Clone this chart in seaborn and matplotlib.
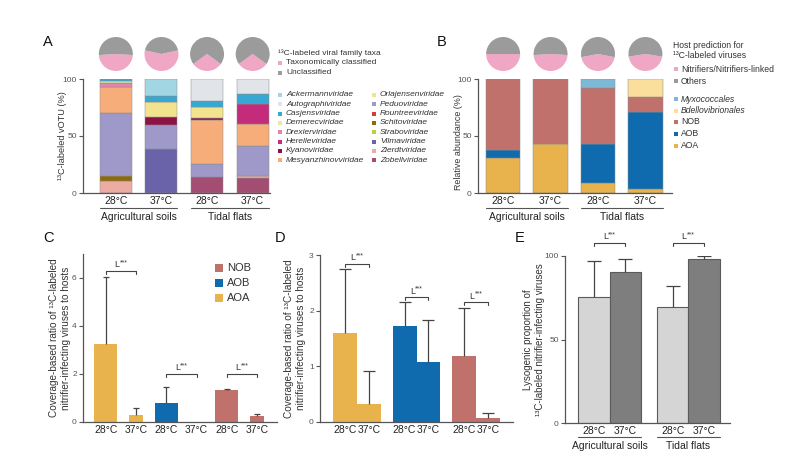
import numpy as np
import pandas as pd
import matplotlib
matplotlib.use("Agg")
import matplotlib.pyplot as plt
import matplotlib.transforms as mtransforms
from matplotlib.patches import Rectangle
import seaborn as sns

sns.set_style("ticks")
plt.rcParams["font.family"] = ["Liberation Sans", "DejaVu Sans"]
plt.rcParams["mathtext.default"] = "regular"

W, H = 786, 475

# ---- A: 13C-labeled vOTUs by viral family (%)
samples = ["AS28", "AS37", "TF28", "TF37"]
temps = ["28°C", "37°C", "28°C", "37°C"]
sites = ["Agricultural soils", "Tidal flats"]
families = ["Ackermannviridae", "Autographiviridae", "Casjensviridae", "Demerecviridae",
            "Drexlerviridae", "Herelleviridae", "Kyanoviridae", "Mesyanzhinovviridae",
            "Orlajensenviridae", "Peduoviridae", "Rountreeviridae", "Schitoviridae",
            "Straboviridae", "Vilmaviridae", "Zierdtviridae", "Zobellviridae"]
fam_colors = ["#A3D6E3", "#E1E5E9", "#37A8D4", "#E3EDA2", "#E584AC", "#C42B7B", "#8D1346", "#F6AD7A",
              "#F2E48F", "#9E99C9", "#D53B3B", "#8F6A0B", "#B6D43E", "#6B63A9", "#ECACA4", "#A34D73"]
# order of the segments, bottom -> top
stack_order = ["Zobellviridae", "Zierdtviridae", "Schitoviridae", "Vilmaviridae", "Peduoviridae",
               "Mesyanzhinovviridae", "Drexlerviridae", "Herelleviridae", "Kyanoviridae",
               "Orlajensenviridae", "Demerecviridae", "Rountreeviridae", "Straboviridae",
               "Casjensviridae", "Ackermannviridae", "Autographiviridae"]
as28 = [0, 0, 2.0, 1.5, 3.5, 0, 0, 23.0, 0, 54.6, 0, 4.4, 0, 0, 10.9, 0]
as37 = [14.5, 0, 5.3, 0, 0, 0, 7.4, 0, 13.3, 20.6, 0, 0, 0, 38.9, 0, 0]
tf28 = [0, 19.2, 5.0, 0, 0, 0, 2.0, 38.9, 9.7, 11.2, 0, 0, 0, 0, 0, 13.9]
tf37 = [0, 13.3, 8.8, 0, 0, 17.4, 0, 19.2, 0, 26.5, 0, 0, 0, 0, 1.8, 13.0]
pie_a = [48, 57, 30, 30]   # taxonomically classified (%)

# ---- B: host prediction (%)
hosts = ["AOA", "AOB", "NOB", "Bdellovibrionales", "Myxococcales"]
host_colors = ["#E8B34D", "#0F6BAE", "#C1716B", "#F9DE9C", "#7DB9D7"]
aoa_b = [30.5, 42.6, 8.5, 3.5]
aob_b = [7.5, 0, 34.1, 67.5]
nob_b = [62.0, 57.4, 49.2, 13.4]
bdello_b = [0, 0, 0, 15.6]
myxo_b = [0, 0, 8.2, 0]
pie_b = [50, 48, 44, 45]   # nitrifiers / nitrifier-linked (%)

# ---- C / D: coverage-based virus:host ratio
ratio_groups = ["AOA", "AOA", "AOB", "AOB", "NOB", "NOB"]
ratio_temps = ["28°C", "37°C", "28°C", "37°C", "28°C", "37°C"]
c_mean = [3.25, 0.30, 0.78, 0.0, 1.33, 0.25]
c_upper = [6.05, 0.60, 1.45, 0.0, 1.37, 0.35]
d_mean = [1.60, 0.33, 1.72, 1.07, 1.19, 0.08]
d_upper = [2.75, 0.91, 2.16, 1.83, 2.04, 0.16]

# ---- E: lysogenic proportion (%)
e_sites = ["Agricultural soils", "Agricultural soils", "Tidal flats", "Tidal flats"]
e_temps = ["28°C", "37°C", "28°C", "37°C"]
e_mean = [75.5, 90.2, 69.6, 98.2]
e_upper = [97.2, 98.2, 82.2, 99.8]

PINK, GREY = "#EFA7C5", "#9B9B9B"
LINE = "#555555"
TXT = "#333333"
col = dict(zip(hosts, host_colors))

fig = plt.figure(figsize=(W / 100, H / 100), dpi=100)


def box(x0, y0, x1, y1):
    # pixel box (top-left origin) -> figure fraction
    return [x0 / W, 1 - y1 / H, (x1 - x0) / W, (y1 - y0) / H]


def style(ax, yticks, ylim):
    sns.despine(ax=ax)
    for s in ("left", "bottom"):
        ax.spines[s].set_color(LINE)
        ax.spines[s].set_linewidth(0.9)
    ax.set_ylim(*ylim)
    ax.set_yticks(yticks)
    ax.tick_params(axis="y", length=3, width=0.8, color=LINE, labelsize=6, labelcolor="#555555", pad=1.5)
    ax.tick_params(axis="x", length=0, labelsize=7.5, labelcolor="#222222", pad=2.5)
    ax.set_xlabel("")


def stacked(ax, table, order, colors, width):
    bottom = np.zeros(table.shape[1])
    for name in order:
        vals = table.loc[name].to_numpy(float)
        if vals.sum() == 0:
            continue
        sns.barplot(x=list(table.columns), y=vals, bottom=bottom.copy(), color=colors[name],
                    width=width, saturation=1, errorbar=None, edgecolor="#8c8c8c",
                    linewidth=0.35, ax=ax)
        bottom += vals
    for p in ax.patches:
        if p.get_height() == 0:
            p.set_visible(False)


def groups(ax, spans, names, y_line, y_text):
    tr = mtransforms.blended_transform_factory(ax.transData, ax.transAxes)
    for (x0, x1), name in zip(spans, names):
        ax.plot([x0, x1], [y_line, y_line], transform=tr, color=LINE, lw=0.8, clip_on=False)
        ax.text((x0 + x1) / 2, y_text, name, transform=tr, ha="center", va="center",
                fontsize=7.5, color="#222222")


def pies(ax, values, cy, r):
    for i, v in enumerate(values):
        xd = ax.transData.transform((i, 0))[0]
        pax = fig.add_axes(box(xd - r, cy - r, xd + r, cy + r))
        pax.pie([v, 100 - v], colors=[PINK, GREY], startangle=270 - v * 1.8,
                counterclock=True, wedgeprops=dict(linewidth=0))
        pax.set_xlim(-1, 1)
        pax.set_ylim(-1, 1)


def sorted_bars(ax):
    return sorted(ax.patches, key=lambda p: p.get_x())


def errors(ax, means, uppers, capsize):
    for p, m, u in zip(sorted_bars(ax), means, uppers):
        if u <= m:
            continue
        xc = p.get_x() + p.get_width() / 2
        eb = ax.errorbar(xc, m, yerr=[[0], [u - m]], fmt="none", ecolor="#444444",
                         elinewidth=0.9, capsize=capsize, capthick=0.9, zorder=3)
        eb[1][0].set_visible(False)


def brackets(ax, ys, tick):
    bars = sorted_bars(ax)
    for k, y in enumerate(ys):
        a, b = bars[2 * k], bars[2 * k + 1]
        x0 = a.get_x() + a.get_width() / 2
        x1 = b.get_x() + b.get_width() / 2
        ax.plot([x0, x0, x1, x1], [y - tick, y, y, y - tick], color="#444444", lw=0.8, clip_on=False)
        xm = (x0 + x1) / 2
        ax.annotate("L", xy=(xm, y), xytext=(-1.2, 1.2), textcoords="offset points",
                    ha="right", va="bottom", fontsize=6.5, color=TXT, annotation_clip=False)
        ax.annotate("***", xy=(xm, y), xytext=(-1.0, 3.2), textcoords="offset points",
                    ha="left", va="bottom", fontsize=5, color=TXT, annotation_clip=False)


# ================= A =================
axA = fig.add_axes(box(83, 79, 270, 193))
tableA = pd.DataFrame({"AS28": as28, "AS37": as37, "TF28": tf28, "TF37": tf37}, index=families)
stacked(axA, tableA, stack_order, dict(zip(families, fam_colors)), 0.7)
style(axA, [0, 50, 100], (0, 100))
axA.set_xlim(-0.72, 3.38)
axA.set_xticks(range(4), labels=temps)
axA.set_ylabel("¹³C-labeled vOTU (%)", fontsize=6.6, color=TXT)
axA.yaxis.set_label_coords(-0.085, 0.5)
groups(axA, [(-0.35, 1.35), (1.65, 3.35)], sites, -0.13, -0.21)
pies(axA, pie_a, 54, 17)

# ================= B =================
axB = fig.add_axes(box(478, 79, 672, 193))
tableB = pd.DataFrame([aoa_b, aob_b, nob_b, bdello_b, myxo_b], index=hosts, columns=samples)
stacked(axB, tableB, hosts, col, 0.72)
style(axB, [0, 50, 100], (0, 100))
axB.set_xlim(-0.53, 3.56)
axB.set_xticks(range(4), labels=temps)
axB.set_ylabel("Relative abundance (%)", fontsize=6.4, color=TXT)
axB.yaxis.set_label_coords(-0.077, 0.45)
groups(axB, [(-0.36, 1.36), (1.64, 3.36)], sites, -0.13, -0.21)
pies(axB, pie_b, 54, 17)

# ================= C =================
axC = fig.add_axes(box(83, 254, 277, 422))
ids = [g + " " + t for g, t in zip(ratio_groups, ratio_temps)]
sns.barplot(x=ids, y=c_mean, hue=ids, palette=[col[g] for g in ratio_groups], legend=False,
            width=0.76, saturation=1, errorbar=None, linewidth=0, ax=axC)
for p, t in zip(sorted_bars(axC), ratio_temps):
    if t == "37°C":
        xc = p.get_x() + p.get_width() / 2
        p.set_width(0.46)
        p.set_x(xc - 0.23)
style(axC, [0, 2, 4, 6], (0, 7))
axC.set_xlim(-0.76, 5.66)
axC.set_xticks(range(6), labels=ratio_temps)
errors(axC, c_mean, c_upper, 2.5)
brackets(axC, [6.3, 2.0, 2.0], 0.12)
ratio_label = "Coverage-based ratio of ¹³C-labeled\nnitrifier-infecting viruses to hosts"
axC.set_ylabel(ratio_label, fontsize=7.2, color=TXT, linespacing=1.3)
axC.yaxis.set_label_coords(-0.06, 0.5)

# ================= D =================
axD = fig.add_axes(box(320, 255, 513, 422))
dfD = pd.DataFrame({"group": ratio_groups, "temp": ratio_temps, "mean": d_mean})
sns.barplot(data=dfD, x="group", y="mean", hue="temp", palette=["#888888", "#888888"],
            legend=False, width=0.8, saturation=1, errorbar=None, linewidth=0, ax=axD)
for p in axD.patches:
    gi = int(round(p.get_x() + p.get_width() / 2))
    p.set_facecolor(col[dfD["group"].unique()[gi]])
style(axD, [0, 1, 2, 3], (0, 3))
axD.set_xlim(-0.62, 2.62)
axD.set_xticks([p.get_x() + p.get_width() / 2 for p in sorted_bars(axD)], labels=ratio_temps)
errors(axD, d_mean, d_upper, 4)
brackets(axD, [2.84, 2.24, 2.15], 0.055)
axD.set_ylabel(ratio_label, fontsize=7.2, color=TXT, linespacing=1.3)
axD.yaxis.set_label_coords(-0.07, 0.5)

# ================= E =================
axE = fig.add_axes(box(565, 256, 730, 423))
dfE = pd.DataFrame({"site": e_sites, "temp": e_temps, "mean": e_mean})
sns.barplot(data=dfE, x="site", y="mean", hue="temp", palette=["#D5D5D5", "#7E7E7E"],
            legend=False, width=0.8, saturation=1, errorbar=None, edgecolor="#5a5a5a",
            linewidth=0.8, ax=axE)
style(axE, [0, 50, 100], (0, 100))
axE.set_xlim(-0.57, 1.53)
barsE = sorted_bars(axE)
axE.set_xticks([p.get_x() + p.get_width() / 2 for p in barsE], labels=e_temps)
errors(axE, e_mean, e_upper, 5)
brackets(axE, [108, 108], 1.8)
axE.set_ylabel("Lysogenic proportion of\n¹³C-labeled nitrifier-infecting viruses",
               fontsize=7, color=TXT, linespacing=1.3)
axE.yaxis.set_label_coords(-0.12, 0.5)
groups(axE, [(barsE[0].get_x(), barsE[1].get_x() + barsE[1].get_width()),
             (barsE[2].get_x(), barsE[3].get_x() + barsE[3].get_width())],
       sites, -0.084, -0.138)

# ================= legends / letters =================
lay = fig.add_axes([0, 0, 1, 1], zorder=10)
lay.set_xlim(0, W)
lay.set_ylim(H, 0)
lay.axis("off")


def key(x, y, color, label, italic=False, fs=6, s=4, gap=6):
    lay.add_patch(Rectangle((x - s / 2, y - s / 2), s, s, color=color, lw=0))
    lay.text(x + gap, y, label, fontsize=fs, style="italic" if italic else "normal",
             va="center", ha="left", color=TXT)


for letter, (x, y) in zip("ABCDE", [(48, 42), (442, 42), (48, 238), (280, 238), (520, 238)]):
    lay.text(x, y, letter, fontsize=10.5, ha="center", va="center", color="#111111")

lay.text(278, 53, "¹³C-labeled viral family taxa", fontsize=6, va="center", color=TXT)
key(280, 63, PINK, "Taxonomically classified")
key(280, 73, GREY, "Unclassified")
for i, (fam, c) in enumerate(zip(families, fam_colors)):
    x = 280 if i < 8 else 374
    key(x, 95 + 9.3 * (i % 8), c, fam, italic=True)

lay.text(673, 46, "Host prediction for", fontsize=6.2, va="center", color=TXT)
lay.text(673, 56, "¹³C-labeled viruses", fontsize=6.2, va="center", color=TXT)
key(676, 69, PINK, "Nitrifiers/Nitrifiers-linked", fs=6.2, gap=5)
key(676, 81, GREY, "Others", fs=6.2, gap=5)
for y, h, it in zip([99, 110.5, 122, 134, 146],
                    ["Myxococcales", "Bdellovibrionales", "NOB", "AOB", "AOA"],
                    [True, True, False, False, False]):
    key(676, y, col[h], h, italic=it, fs=6.2, gap=5)

for y, h in zip([268, 283, 298], ["NOB", "AOB", "AOA"]):
    key(219, y, col[h], h, fs=8, s=8, gap=8)

fig.savefig("out.png", dpi=100)
